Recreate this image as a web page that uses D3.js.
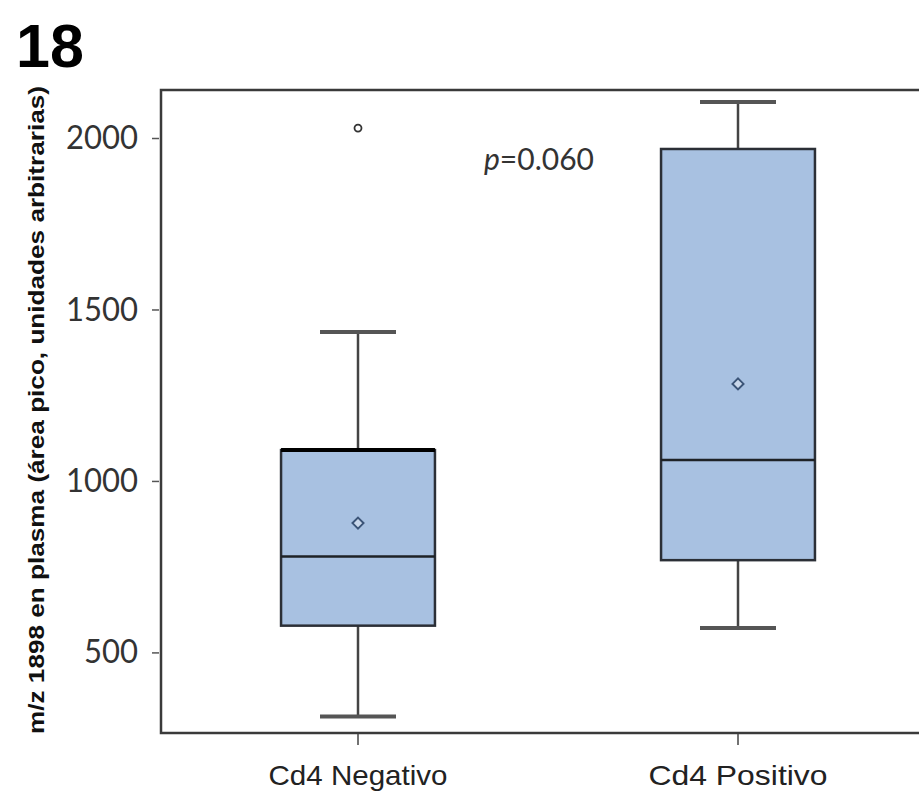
<!DOCTYPE html>
<html>
<head>
<meta charset="utf-8">
<script src="https://cdn.jsdelivr.net/npm/d3@7"></script>
<style>
  body { margin: 0; background: #fff; }
</style>
</head>
<body>
<div id="chart"></div>
<script>
const categories = ["Cd4 Negativo", "Cd4 Positivo"];
const whiskerLow = [313, 571];
const q1 = [578, 769];
const median = [780, 1061];
const q3 = [1090, 1968];
const whiskerHigh = [1434, 2105];
const means = [877, 1283];
const outliers = [[2029], []];
const yTicks = [500, 1000, 1500, 2000];

const W = 919, H = 796;
const frame = { left: 161, top: 90, right: 930, bottom: 733 };

const svg = d3.select("#chart").append("svg")
  .attr("width", W).attr("height", H);

const x = d3.scaleBand()
  .domain(categories)
  .range([168, 928]);

const y = d3.scaleLinear()
  .domain([265, 2140])
  .range([frame.bottom, frame.top]);

const boxes = categories.map((c, i) => ({
  cat: c, lo: whiskerLow[i], q1: q1[i], med: median[i], q3: q3[i],
  hi: whiskerHigh[i], mean: means[i], out: outliers[i]
}));

const bw = x.bandwidth() * 0.405;
const capW = x.bandwidth() * 0.2;

// title
svg.append("text")
  .attr("x", 16).attr("y", 67)
  .style("font-family", "Liberation Sans, Arial, sans-serif")
  .style("font-weight", "bold")
  .style("font-size", "61px")
  .text("18");

// frame
svg.append("rect")
  .attr("x", frame.left).attr("y", frame.top)
  .attr("width", frame.right - frame.left)
  .attr("height", frame.bottom - frame.top)
  .attr("fill", "none")
  .attr("stroke", "#3a3a3a")
  .attr("stroke-width", 2.5);

const g = svg.append("g");

boxes.forEach(d => {
  const cx = x(d.cat) + x.bandwidth() / 2;
  // whiskers
  g.append("line")
    .attr("x1", cx).attr("x2", cx)
    .attr("y1", y(d.hi)).attr("y2", y(d.q3))
    .attr("stroke", "#444").attr("stroke-width", 2.5);
  g.append("line")
    .attr("x1", cx).attr("x2", cx)
    .attr("y1", y(d.q1)).attr("y2", y(d.lo))
    .attr("stroke", "#444").attr("stroke-width", 2.5);
  [d.hi, d.lo].forEach(v => {
    g.append("line")
      .attr("x1", cx - capW / 2).attr("x2", cx + capW / 2)
      .attr("y1", y(v)).attr("y2", y(v))
      .attr("stroke", "#555").attr("stroke-width", 4);
  });
  // box
  g.append("rect")
    .attr("x", cx - bw / 2).attr("y", y(d.q3))
    .attr("width", bw).attr("height", y(d.q1) - y(d.q3))
    .attr("fill", "#a8c1e1")
    .attr("stroke", "#2b2f36").attr("stroke-width", 2.5);
  // median
  g.append("line")
    .attr("x1", cx - bw / 2).attr("x2", cx + bw / 2)
    .attr("y1", y(d.med)).attr("y2", y(d.med))
    .attr("stroke", "#1e2226").attr("stroke-width", 2.5);
  // mean diamond
  const m = y(d.mean), s = 5.5;
  g.append("path")
    .attr("d", `M${cx},${m - s}L${cx + s},${m}L${cx},${m + s}L${cx - s},${m}Z`)
    .attr("fill", "#c9d7ea")
    .attr("stroke", "#3b5477").attr("stroke-width", 2);
  // outliers
  d.out.forEach(v => {
    g.append("circle")
      .attr("cx", cx).attr("cy", y(v)).attr("r", 3.5)
      .attr("fill", "#fff")
      .attr("stroke", "#333").attr("stroke-width", 1.8);
  });
});

// thicker top edge on first box
g.append("line")
  .attr("x1", x(categories[0]) + x.bandwidth() / 2 - bw / 2)
  .attr("x2", x(categories[0]) + x.bandwidth() / 2 + bw / 2)
  .attr("y1", y(q3[0])).attr("y2", y(q3[0]))
  .attr("stroke", "#000").attr("stroke-width", 4);

// y axis
const yAxis = svg.append("g")
  .attr("transform", `translate(${frame.left - 2},0)`)
  .call(d3.axisLeft(y).tickValues(yTicks).tickSize(7).tickPadding(14).tickFormat(d3.format("d")));
yAxis.select(".domain").remove();
yAxis.selectAll(".tick line").attr("stroke", "#555").attr("stroke-width", 1.5);
yAxis.selectAll(".tick text")
  .style("font-family", "Lato, sans-serif")
  .style("font-size", "33px")
  .attr("textLength", d => String(d).length * 18)
  .attr("lengthAdjust", "spacingAndGlyphs")
  .attr("fill", "#333");

// x axis
const xAxis = svg.append("g")
  .attr("transform", `translate(0,${frame.bottom + 1})`)
  .call(d3.axisBottom(x).tickSize(11).tickPadding(20));
xAxis.select(".domain").remove();
xAxis.selectAll(".tick line").attr("stroke", "#444").attr("stroke-width", 1.5);
xAxis.selectAll(".tick text")
  .style("font-family", "Liberation Sans, Arial, sans-serif")
  .style("font-size", "28px")
  .attr("textLength", 179)
  .attr("lengthAdjust", "spacingAndGlyphs")
  .attr("fill", "#222");

// y label
svg.append("text")
  .attr("transform", `translate(44,410) rotate(-90)`)
  .attr("text-anchor", "middle")
  .style("font-family", "Liberation Sans, Arial, sans-serif")
  .style("font-weight", "bold")
  .style("font-size", "21.5px")
  .attr("textLength", 648)
  .attr("lengthAdjust", "spacingAndGlyphs")
  .attr("fill", "#111")
  .text("m/z 1898 en plasma (área pico, unidades arbitrarias)");

// p value
const pt = svg.append("text")
  .attr("x", 484).attr("y", 170)
  .style("font-family", "Lato, sans-serif")
  .style("font-size", "30px")
  .attr("fill", "#333");
pt.append("tspan").style("font-style", "italic").text("p");
pt.append("tspan").text("=0.060");
</script>
</body>
</html>
